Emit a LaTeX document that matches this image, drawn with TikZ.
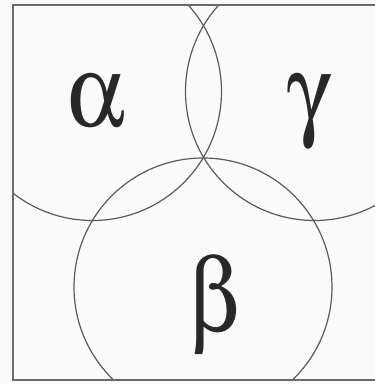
\documentclass[tikz,border=0pt]{standalone}
\usepackage[Symbol]{upgreek}
\usetikzlibrary{positioning}
\definecolor{VennLinha}{RGB}{90,90,90}
\definecolor{VennMoldura}{RGB}{105,105,105}
\definecolor{VennLetra}{RGB}{40,40,40}
\definecolor{VennFundo}{RGB}{250,250,250}
\tikzset{
  moldura/.style={draw=VennMoldura, line width=1.9pt},
  circulo/.style={draw=VennLinha, line width=1.2pt},
  letra/.style={font=\fontsize{88}{88}\selectfont, text=VennLetra, anchor=base, inner sep=0pt,
                transform shape, xscale=1.04, yscale=1.18},
}
\begin{document}
\begin{tikzpicture}[x=1pt, y=1pt]
  % Área da figura
  \useasboundingbox[fill=VennFundo] (0,0) rectangle (375,384);

  % Centros dos círculos
  \coordinate (centroAlfa) at (92.5,292.5);
  \coordinate (centroGama) at (314.5,292.5);
  \coordinate (centroBeta) at (203,97);

  % Círculos recortados pela moldura
  \begin{scope}
    \clip (13,4) rectangle (380,379);
    \draw[circulo] (centroAlfa) circle[radius=129];
    \draw[circulo] (centroGama) circle[radius=129];
    \draw[circulo] (centroBeta) circle[radius=129];
  \end{scope}

  % Moldura (lado direito fora da figura)
  \draw[moldura] (380,379) -- (13,379) -- (13,4) -- (380,4);

  % Letras
  \node[letra] (alfa) at (96.5,257) {$\upalpha$};
  \node[letra] (gama) at (310,257) {$\upgamma$};
  \node[letra] (beta) at (215,53) {$\upbeta$};
\end{tikzpicture}
\end{document}
